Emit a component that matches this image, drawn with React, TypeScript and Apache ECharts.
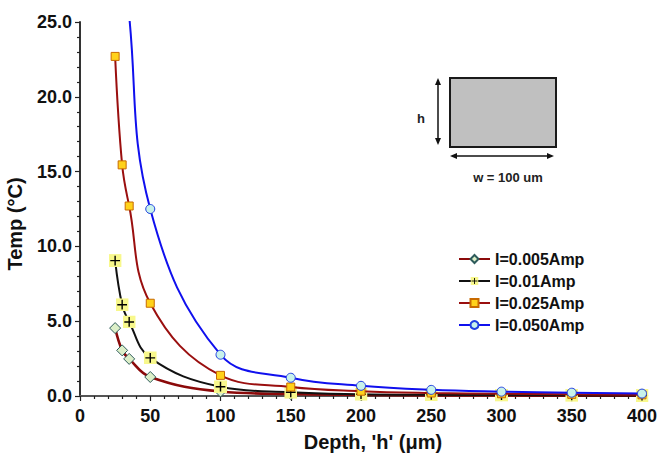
import React, { useEffect, useRef } from "react";
import * as echarts from "echarts";

// Depth of the conductor (um) at which temperature rise was evaluated
const depths = [25, 30, 35, 50, 100, 150, 200, 250, 300, 350, 400];

// Temperature rise (°C) for each drive current
const temp005 = [4.54, 3.05, 2.48, 1.27, 0.3, 0.13, 0.07, 0.04, 0.03, 0.02, 0.016];
const temp010 = [9.05, 6.1, 4.95, 2.55, 0.62, 0.25, 0.12, 0.08, 0.06, 0.045, 0.03];
const temp025 = [22.7, 15.45, 12.7, 6.2, 1.38, 0.6, 0.32, 0.2, 0.15, 0.11, 0.08];
const temp050 = [45.4, 31.0, 25.4, 12.5, 2.76, 1.22, 0.68, 0.41, 0.29, 0.22, 0.16];

const seriesNames = ["I=0.005Amp", "I=0.01Amp", "I=0.025Amp", "I=0.050Amp"];

const yTicks = [0, 5, 10, 15, 20, 25];
const xTicks = [0, 50, 100, 150, 200, 250, 300, 350, 400];

const FONT = 'Arial, "Liberation Sans", sans-serif';

const plusSvg =
  "<svg xmlns='http://www.w3.org/2000/svg' width='12' height='12'>" +
  "<rect x='0' y='0' width='12' height='12' fill='#f8f88c'/>" +
  "<path d='M6 1.5V10.5M1.5 6H10.5' stroke='#000' stroke-width='1.3' fill='none'/></svg>";
const plusSymbol = "image://data:image/svg+xml;utf8," + encodeURIComponent(plusSvg);

const pairs = (ys: number[]) => depths.map((d, i) => [d, ys[i]]);

export default function App() {
  const ref = useRef<HTMLDivElement>(null);

  useEffect(() => {
    if (!ref.current) return;
    const chart = echarts.init(ref.current, undefined, { renderer: "svg" });

    const tickStyle = { color: "#222", width: 1.2 };
    const labelStyle = {
      fontFamily: FONT,
      fontWeight: "bold",
      fontSize: 18,
      color: "#111",
    };

    chart.setOption({
      animation: false,
      backgroundColor: "#ffffff",
      textStyle: { fontFamily: FONT },
      grid: {
        left: 80,
        right: 19,
        top: 22,
        bottom: 58,
        containLabel: false,
        outerBoundsMode: "none",
      },
      legend: {
        orient: "vertical",
        left: 453,
        top: 246,
        itemWidth: 31,
        itemHeight: 10,
        itemGap: 6,
        data: seriesNames,
        textStyle: { fontFamily: FONT, fontWeight: "bold", fontSize: 16, color: "#111" },
      },
      xAxis: {
        type: "value",
        min: xTicks[0],
        max: xTicks[xTicks.length - 1],
        interval: 50,
        name: "Depth, 'h' (\u03bcm)",
        nameLocation: "middle",
        nameGap: 36,
        nameTextStyle: {
          fontFamily: FONT,
          fontWeight: "bold",
          fontSize: 20,
          color: "#111",
          padding: [0, 0, 0, 24],
        },
        axisLine: { show: true, onZero: false, lineStyle: { color: "#555", width: 2 } },
        axisTick: { show: true, inside: false, length: 5, lineStyle: tickStyle },
        minorTick: { show: true, splitNumber: 5, length: 3, lineStyle: tickStyle },
        axisLabel: { ...labelStyle, margin: 11 },
        splitLine: { show: false },
      },
      yAxis: {
        type: "value",
        min: yTicks[0],
        max: yTicks[yTicks.length - 1],
        interval: 5,
        name: "Temp (\u00b0C)",
        nameLocation: "middle",
        nameGap: 55,
        nameRotate: 90,
        nameTextStyle: {
          fontFamily: FONT,
          fontWeight: "bold",
          fontSize: 20,
          color: "#111",
          padding: [0, 30, 0, 0],
        },
        axisLine: { show: true, lineStyle: { color: "#333", width: 2 } },
        axisTick: { show: true, inside: false, length: 5, lineStyle: tickStyle },
        minorTick: { show: true, splitNumber: 5, length: 3, lineStyle: tickStyle },
        axisLabel: {
          ...labelStyle,
          margin: 8,
          formatter: (v: number) => v.toFixed(1),
        },
        splitLine: { show: false },
      },
      series: [
        {
          name: seriesNames[0],
          type: "line",
          data: pairs(temp005),
          smooth: 0.4,
          clip: true,
          symbol: "diamond",
          symbolSize: 11,
          itemStyle: { color: "#dcefc8", borderColor: "#2e5b5b", borderWidth: 1 },
          lineStyle: { color: "#8b0a0a", width: 2.6 },
          z: 3,
        },
        {
          name: seriesNames[1],
          type: "line",
          data: pairs(temp010),
          smooth: 0.4,
          clip: true,
          symbol: plusSymbol,
          symbolSize: 13,
          itemStyle: { color: "#f8f88c" },
          lineStyle: { color: "#111111", width: 2 },
          z: 4,
        },
        {
          name: seriesNames[2],
          type: "line",
          data: pairs(temp025),
          smooth: 0.4,
          clip: true,
          symbol: "rect",
          symbolSize: 8,
          itemStyle: { color: "#ffd21a", borderColor: "#c86a00", borderWidth: 1 },
          lineStyle: { color: "#9a0f0f", width: 2 },
          z: 5,
        },
        {
          name: seriesNames[3],
          type: "line",
          data: pairs(temp050),
          smooth: 0.4,
          clip: true,
          symbol: "circle",
          symbolSize: 9,
          itemStyle: { color: "#c8f2ea", borderColor: "#1f3fe0", borderWidth: 1 },
          lineStyle: { color: "#1010ee", width: 2 },
          z: 6,
        },
      ],
      graphic: [
        // cross-section sketch of the conductor
        {
          type: "rect",
          shape: { x: 450, y: 78, width: 106, height: 69 },
          style: { fill: "#c0c0c0", stroke: "#1a1a1a", lineWidth: 2 },
        },
        {
          type: "line",
          shape: { x1: 438, y1: 82, x2: 438, y2: 141 },
          style: { stroke: "#111", lineWidth: 1.5 },
        },
        {
          type: "polygon",
          shape: { points: [[438, 78], [435, 85], [441, 85]] },
          style: { fill: "#111" },
        },
        {
          type: "polygon",
          shape: { points: [[438, 145], [435, 138], [441, 138]] },
          style: { fill: "#111" },
        },
        {
          type: "text",
          x: 421,
          y: 118,
          style: {
            text: "h",
            fontFamily: FONT,
            fontWeight: "bold",
            fontSize: 13,
            fill: "#222",
            align: "center",
            verticalAlign: "middle",
          },
        },
        {
          type: "line",
          shape: { x1: 454, y1: 156, x2: 550, y2: 156 },
          style: { stroke: "#111", lineWidth: 1.5 },
        },
        {
          type: "polygon",
          shape: { points: [[450, 156], [457, 153], [457, 159]] },
          style: { fill: "#111" },
        },
        {
          type: "polygon",
          shape: { points: [[554, 156], [547, 153], [547, 159]] },
          style: { fill: "#111" },
        },
        {
          type: "text",
          x: 508,
          y: 177,
          style: {
            text: "w = 100 um",
            fontFamily: FONT,
            fontWeight: "bold",
            fontSize: 13,
            fill: "#222",
            align: "center",
            verticalAlign: "middle",
          },
        },
      ],
    });

    return () => chart.dispose();
  }, []);

  return (
    <div
      ref={ref}
      style={{ position: "fixed", left: 0, top: 0, width: 661, height: 454, background: "#fff" }}
    />
  );
}
